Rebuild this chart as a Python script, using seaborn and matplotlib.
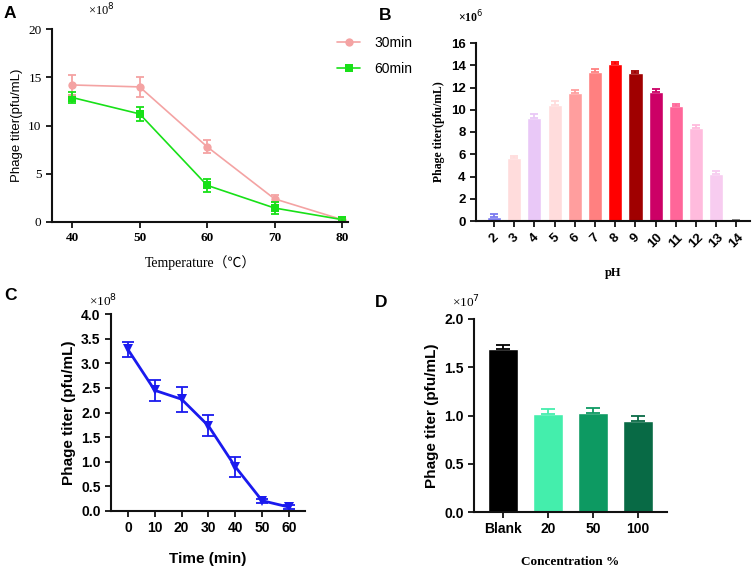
import numpy as np
import pandas as pd
import matplotlib
matplotlib.use('Agg')
import matplotlib.pyplot as plt
import seaborn as sns

sns.set_style('ticks')
SERIF = 'Liberation Serif'
SANS = 'Liberation Sans'
plt.rcParams['font.family'] = [SANS, 'DejaVu Sans']
plt.rcParams.update({'text.color': 'black', 'axes.labelcolor': 'black',
                     'xtick.color': 'black', 'ytick.color': 'black'})

# A: temperature stability (x1e8 pfu/mL)
temps = [40, 50, 60, 70, 80]
t30_mean = [14.2, 14.0, 7.8, 2.4, 0.25]
t30_err = [1.0, 1.0, 0.7, 0.35, 0.1]
t60_mean = [12.9, 11.2, 3.8, 1.45, 0.25]
t60_err = [0.6, 0.7, 0.7, 0.6, 0.1]

# B: pH stability (x1e6 pfu/mL)
ph_labels = ['2', '3', '4', '5', '6', '7', '8', '9', '10', '11', '12', '13', '14']
ph_mean = [0.35, 5.7, 9.3, 10.4, 11.5, 13.4, 14.1, 13.3, 11.6, 10.35, 8.4, 4.2, 0.05]
ph_err = [0.25, 0.12, 0.3, 0.35, 0.25, 0.22, 0.15, 0.2, 0.25, 0.15, 0.2, 0.3, 0.02]
ph_colors = ['#7b7bf0', '#ffdcdc', '#e9c8f7', '#ffdcdc', '#ff9e9e', '#ff8080',
             '#ff0000', '#a00000', '#cc0066', '#ff6699', '#ffbbdd', '#f7ccf0', '#888888']

# C: time course (x1e8 pfu/mL)
times = [0, 10, 20, 30, 40, 50, 60]
time_mean = [3.28, 2.45, 2.27, 1.73, 0.9, 0.21, 0.08]
time_err = [0.16, 0.21, 0.25, 0.21, 0.2, 0.04, 0.04]

# D: concentration (x1e7 pfu/mL)
conc_labels = ['Blank', '20', '50', '100']
conc_mean = [1.69, 1.02, 1.03, 0.94]
conc_err = [0.04, 0.05, 0.05, 0.06]
conc_colors = ['#000000', '#44eeac', '#0d9a62', '#086a45']

W, H = 753, 572
fig = plt.figure(figsize=(W / 100, H / 100), dpi=100)


def box(l, r, t, b):
    return [l / W, 1 - b / H, (r - l) / W, (b - t) / H]


def style_axes(ax):
    sns.despine(ax=ax)
    for s in ['left', 'bottom']:
        ax.spines[s].set_linewidth(1.5)
        ax.spines[s].set_color('#111111')
    ax.tick_params(direction='out', length=4, width=1.3, color='#111111')


def up_errors(ax, means, errs, colors, cap):
    for i, (m, e, c) in enumerate(zip(means, errs, colors)):
        ax.errorbar(i, m, yerr=[[0], [e]], fmt='none', ecolor=c,
                    elinewidth=1.3, capsize=cap, capthick=1.3)


# ---- A ----
axA = fig.add_axes(box(52, 348, 29, 222))
dfA = pd.DataFrame({'temp': temps * 2, 'titer': t30_mean + t60_mean,
                    'group': ['30min'] * 5 + ['60min'] * 5})
sns.lineplot(data=dfA, x='temp', y='titer', hue='group', style='group',
             palette={'30min': '#f4a3a3', '60min': '#18e018'},
             markers={'30min': 'o', '60min': 's'}, dashes=False,
             markersize=6, markeredgewidth=0, linewidth=1.2, ax=axA)
axA.errorbar(temps, t30_mean, yerr=t30_err, fmt='none', ecolor='#f4a3a3',
             elinewidth=1.3, capsize=3, capthick=1.3)
axA.errorbar(temps, t60_mean, yerr=t60_err, fmt='none', ecolor='#18e018',
             elinewidth=1.3, capsize=3, capthick=1.3)
axA.set_xlim(37, 80.9)
axA.set_ylim(0, 20)
axA.set_xticks(temps)
axA.set_yticks([0, 5, 10, 15, 20])
style_axes(axA)
for t in axA.get_yticklabels():
    t.set_fontfamily(SERIF)
    t.set_fontsize(9.5)
for t in axA.get_xticklabels():
    t.set_fontfamily(SERIF)
    t.set_fontweight('bold')
    t.set_fontsize(9.5)
axA.set_xlabel('Temperature（℃）', fontfamily=[SERIF, 'Noto Sans CJK SC', 'DejaVu Sans'],
               fontsize=10, labelpad=8)
axA.set_ylabel('Phage titer(pfu/mL)', fontsize=9.5)
axA.legend(loc='upper left', bbox_to_anchor=(0.92, 1.03), frameon=False,
           fontsize=10, handlelength=1.7, handletextpad=1.0, labelspacing=0.9)
fig.text(88 / W, 1 - 10 / H, '×10$^8$', fontfamily=SERIF, fontsize=9, va='center')

# ---- B ----
axB = fig.add_axes(box(476, 750, 43, 221))
dfB = pd.DataFrame({'pH': ph_labels, 'titer': ph_mean})
sns.barplot(data=dfB, x='pH', y='titer', hue='pH', palette=ph_colors,
            saturation=1, width=0.7, legend=False, ax=axB)
up_errors(axB, ph_mean, ph_err, ph_colors, 3)
axB.set_xlim(-0.89, 12.67)
axB.set_ylim(0, 16)
axB.set_yticks(range(0, 17, 2))
style_axes(axB)
axB.tick_params(axis='x', labelrotation=45)
for t in axB.get_yticklabels() + axB.get_xticklabels():
    t.set_fontweight('bold')
    t.set_fontsize(9.5)
axB.set_ylabel('Phage titer(pfu/mL)', fontfamily=SERIF, fontweight='bold', fontsize=8.5)
axB.set_xlabel('pH', fontfamily=SERIF, fontweight='bold', fontsize=9, labelpad=12)
fig.text(458 / W, 1 - 17 / H, '×10$^6$', fontfamily=SERIF, fontweight='bold', fontsize=8.5, va='center')

# ---- C ----
axC = fig.add_axes(box(111, 305, 314, 511))
sns.lineplot(x=times, y=time_mean, color='#1a1aee', marker='v', markersize=7.5,
             markeredgewidth=0, linewidth=2, ax=axC)
axC.errorbar(times, time_mean, yerr=time_err, fmt='none', ecolor='#1a1aee',
             elinewidth=1.3, capsize=4, capthick=1.3)
axC.set_xlim(-6.3, 66)
axC.set_ylim(0, 4)
axC.set_xticks(times)
axC.set_yticks(np.arange(0, 4.01, 0.5))
axC.set_yticklabels([f'{v:.1f}' for v in np.arange(0, 4.01, 0.5)])
style_axes(axC)
for t in axC.get_yticklabels() + axC.get_xticklabels():
    t.set_fontweight('bold')
    t.set_fontsize(10)
axC.set_ylabel('Phage titer (pfu/mL)', fontweight='bold', fontsize=11)
axC.set_xlabel('Time (min)', fontweight='bold', fontsize=11, labelpad=12)
fig.text(89 / W, 1 - 301 / H, '×10$^8$', fontfamily=SERIF, fontsize=9.5, va='center')

# ---- D ----
axD = fig.add_axes(box(474, 667, 319, 512))
dfD = pd.DataFrame({'conc': conc_labels, 'titer': conc_mean})
sns.barplot(data=dfD, x='conc', y='titer', hue='conc', palette=conc_colors,
            saturation=1, width=0.67, legend=False, ax=axD)
up_errors(axD, conc_mean, conc_err, conc_colors, 5)
axD.set_xlim(-0.64, 3.64)
axD.set_ylim(0, 2)
axD.set_yticks(np.arange(0, 2.01, 0.5))
axD.set_yticklabels([f'{v:.1f}' for v in np.arange(0, 2.01, 0.5)])
style_axes(axD)
for t in axD.get_yticklabels() + axD.get_xticklabels():
    t.set_fontweight('bold')
    t.set_fontsize(10)
axD.set_ylabel('Phage titer (pfu/mL)', fontweight='bold', fontsize=11)
axD.set_xlabel('Concentration %', fontfamily=SERIF, fontweight='bold', fontsize=9.5, labelpad=14)
fig.text(452 / W, 1 - 302 / H, '×10$^7$', fontfamily=SERIF, fontsize=9.5, va='center')

# panel letters
for lab, x, y in [('A', 4, 14), ('B', 379, 15), ('C', 4, 295), ('D', 375, 302)]:
    fig.text(x / W, 1 - y / H, lab, fontweight='bold', fontsize=12.5, va='center')

fig.savefig('out.png', dpi=100)
